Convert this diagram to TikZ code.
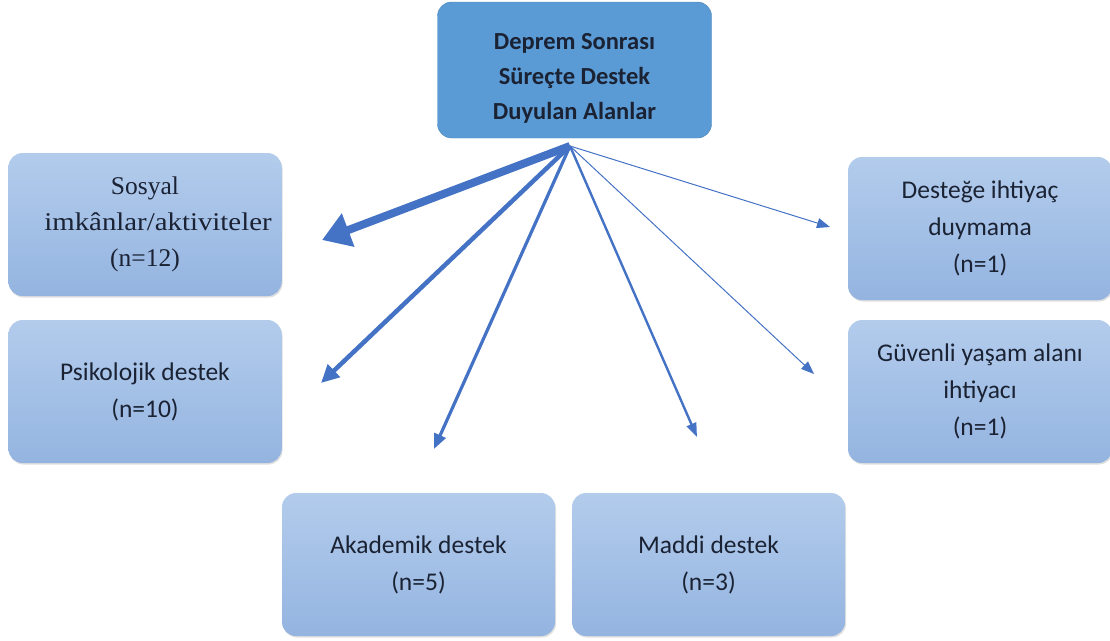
\documentclass[tikz,border=0pt]{standalone}
\usepackage{fontspec}
\setmainfont{Carlito}
\newfontfamily\serifface{Liberation Serif}
\usetikzlibrary{arrows.meta,shadows}
\definecolor{topblue}{HTML}{5B9BD5}
\definecolor{boxtop}{HTML}{B3CCEC}
\definecolor{boxbot}{HTML}{94B4E0}
\definecolor{arrowblue}{HTML}{4472C4}
\definecolor{txt}{HTML}{1A2233}
\tikzset{
  box/.style={rectangle, rounded corners=14pt, top color=boxtop, bottom color=boxbot,
    draw=none, minimum width=273pt, minimum height=143pt, align=center,
    text=txt, font=\fontsize{25.5}{37}\selectfont,
    drop shadow={shadow xshift=1pt, shadow yshift=-1.5pt, opacity=0.25}},
  topbox/.style={rectangle, rounded corners=14pt, fill=topblue, draw=topblue!85!black,
    minimum width=274pt, minimum height=136pt, align=center,
    text=txt, font=\fontsize{24.5}{35}\selectfont\bfseries},
  arr/.style={draw=arrowblue, line cap=butt}
}
\begin{document}
\begin{tikzpicture}[x=1pt,y=-1pt]
\useasboundingbox (0,0) rectangle (1110,640);
\node[topbox] (top) at (574.5,70) {\rule{0pt}{32pt}Deprem Sonrası\\Süreçte Destek\\Duyulan Alanlar};
\node[box, font=\serifface\fontsize{25.5}{36}\selectfont] (sos) at (145,224.5) {Sosyal\\\hspace*{26pt}\scalebox{1.13}[1]{imkânlar/aktiviteler}\\(n=12)};
\node[box] (psi) at (145,391.5) {Psikolojik destek\\(n=10)};
\node[box] (aka) at (418.5,564.5) {Akademik destek\\(n=5)};
\node[box] (mad) at (708.5,564.5) {Maddi destek\\(n=3)};
\node[box, minimum width=264pt] (des) at (980,228.5) {Desteğe ihtiyaç\\duymama\\(n=1)};
\node[box, minimum width=264pt] (guv) at (980,391.5) {Güvenli yaşam alanı\\ihtiyacı\\(n=1)};
\coordinate (src) at (570,146);
\coordinate (tsos) at (322,240);
\coordinate (tpsi) at (321,383);
\coordinate (taka) at (434,449);
\coordinate (tmad) at (697,437);
\coordinate (tdes) at (830,227);
\coordinate (tguv) at (814,374);
\draw[arr, line width=8pt, -{Triangle[length=28pt,width=34pt]}] (src) -- (tsos);
\draw[arr, line width=4.5pt, -{Triangle[length=18pt,width=17pt]}] (src) -- (tpsi);
\draw[arr, line width=3.2pt, -{Triangle[length=15pt,width=12pt]}] (src) -- (taka);
\draw[arr, line width=2.4pt, -{Triangle[length=14pt,width=10pt]}] (src) -- (tmad);
\draw[arr, line width=1pt, -{Triangle[length=13pt,width=10pt]}] (src) -- (tdes);
\draw[arr, line width=1pt, -{Triangle[length=13pt,width=10pt]}] (src) -- (tguv);
\end{tikzpicture}
\end{document}
